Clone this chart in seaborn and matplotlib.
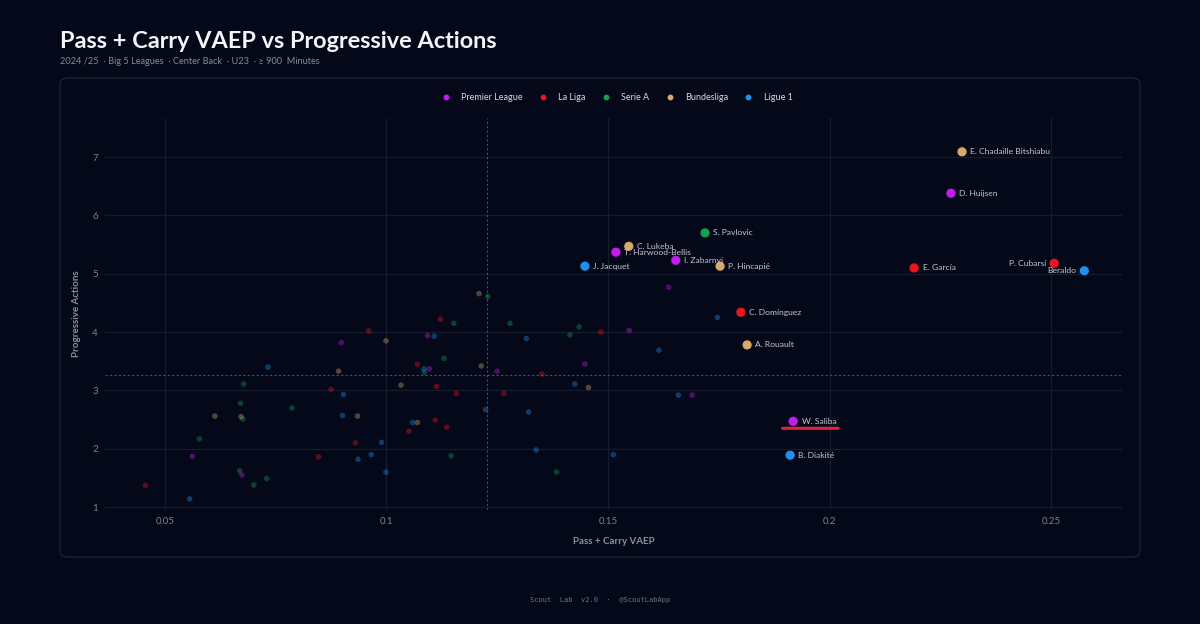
import numpy as np
import pandas as pd
import seaborn as sns
import matplotlib.pyplot as plt
from matplotlib.patches import FancyBboxPatch
from matplotlib.transforms import offset_copy

# ligler ve renkler
leagues = ["Premier League", "La Liga", "Serie A", "Bundesliga", "Ligue 1"]
league_colors = ["#c41cf0", "#f0121e", "#12a150", "#d9a96a", "#1e90f0"]

# etiketli oyuncular
names = ["E. Chadaille Bitshiabu", "D. Huijsen", "S. Pavlovic", "C. Lukeba",
         "T. Harwood-Bellis", "J. Jacquet", "I. Zabarnyi", "P. Hincapié",
         "E. García", "P. Cubarsí", "Beraldo", "C. Domínguez", "A. Rouault",
         "W. Saliba", "B. Diakité"]
names_vaep = [0.2299, 0.2274, 0.1719, 0.1547, 0.1518, 0.1448, 0.1653, 0.1753,
              0.2191, 0.2507, 0.2575, 0.1800, 0.1814, 0.1918, 0.1911]
names_prog = [7.09, 6.38, 5.70, 5.47, 5.37, 5.13, 5.23, 5.13,
              5.10, 5.18, 5.05, 4.34, 3.78, 2.47, 1.89]
names_league = ["Bundesliga", "Premier League", "Serie A", "Bundesliga",
                "Premier League", "Ligue 1", "Premier League", "Bundesliga",
                "La Liga", "La Liga", "Ligue 1", "La Liga", "Bundesliga",
                "Premier League", "Ligue 1"]
left_labels = ["P. Cubarsí", "Beraldo"]

# diğer oyuncular (soluk noktalar)
pl_vaep = [0.1637, 0.1548, 0.1448, 0.1690, 0.1093, 0.1097, 0.1250, 0.0898, 0.0562, 0.0674]
pl_prog = [4.77, 4.03, 3.45, 2.92, 3.94, 3.37, 3.33, 3.82, 1.87, 1.55]
liga_vaep = [0.1484, 0.1351, 0.1122, 0.0960, 0.1070, 0.0875, 0.1113, 0.1158,
             0.1265, 0.1110, 0.1136, 0.1051, 0.0930, 0.0847, 0.0456]
liga_prog = [4.00, 3.28, 4.22, 4.02, 3.45, 3.02, 3.07, 2.95,
             2.95, 2.49, 2.37, 2.30, 2.10, 1.86, 1.37]
seriea_vaep = [0.1435, 0.1414, 0.1229, 0.1152, 0.1279, 0.1130, 0.1086, 0.1146, 0.1384,
               0.0678, 0.0671, 0.0676, 0.0787, 0.0578, 0.0669, 0.0701, 0.0730]
seriea_prog = [4.09, 3.95, 4.61, 4.15, 4.15, 3.55, 3.31, 1.88, 1.60,
               3.11, 2.78, 2.51, 2.70, 2.17, 1.62, 1.38, 1.49]
bund_vaep = [0.1456, 0.1209, 0.0999, 0.0892, 0.1214, 0.1033, 0.0935, 0.1070, 0.0672, 0.0613]
bund_prog = [3.05, 4.66, 3.85, 3.33, 3.42, 3.09, 2.56, 2.45, 2.55, 2.56]
ligue1_vaep = [0.1747, 0.1316, 0.1615, 0.1425, 0.1659, 0.1321, 0.1108, 0.1085, 0.0903, 0.0901,
               0.1224, 0.1059, 0.0989, 0.0936, 0.0966, 0.0999, 0.1338, 0.1512, 0.0733, 0.0556]
ligue1_prog = [4.25, 3.89, 3.69, 3.11, 2.92, 2.63, 3.93, 3.37, 2.93, 2.57,
               2.67, 2.45, 2.11, 1.82, 1.90, 1.60, 1.98, 1.90, 3.40, 1.14]

mean_vaep = 0.1227
mean_prog = 3.27

# tablo
others = pd.concat([
    pd.DataFrame({"vaep": pl_vaep, "prog": pl_prog, "league": "Premier League"}),
    pd.DataFrame({"vaep": liga_vaep, "prog": liga_prog, "league": "La Liga"}),
    pd.DataFrame({"vaep": seriea_vaep, "prog": seriea_prog, "league": "Serie A"}),
    pd.DataFrame({"vaep": bund_vaep, "prog": bund_prog, "league": "Bundesliga"}),
    pd.DataFrame({"vaep": ligue1_vaep, "prog": ligue1_prog, "league": "Ligue 1"}),
])
top = pd.DataFrame({"name": names, "vaep": names_vaep, "prog": names_prog, "league": names_league})
palette = dict(zip(leagues, league_colors))

bg = "#050818"
grid_c = "#171c2c"
tick_c = "#7b808e"

sns.set_theme(style="dark")
plt.rcParams["font.family"] = ["Lato", "DejaVu Sans"]

fig = plt.figure(figsize=(12, 6.24), dpi=100, facecolor=bg)
ax = fig.add_axes([0.0875, 0.1827, 0.8475, 0.6282])
ax.set_facecolor(bg)

# panel çerçevesi
panel = FancyBboxPatch((60 / 1200, 1 - 557 / 624), 1080 / 1200, 479 / 624,
                       boxstyle="round,pad=0,rounding_size=0.008",
                       transform=fig.transFigure, facecolor="none",
                       edgecolor="#1d2232", lw=1.0, zorder=0)
fig.patches.append(panel)

# soluk noktalar
sns.scatterplot(data=others, x="vaep", y="prog", hue="league", hue_order=leagues,
                palette=palette, s=16, alpha=0.38, linewidth=0, legend=False, ax=ax, zorder=3)

# etiketli noktalar
sns.scatterplot(data=top, x="vaep", y="prog", hue="league", hue_order=leagues,
                palette=palette, s=55, linewidth=0.8, edgecolor="#0b0e1c", legend=False,
                ax=ax, zorder=5)

for n, xv, yv in zip(names, names_vaep, names_prog):
    if n in left_labels:
        ax.annotate(n, (xv, yv), xytext=(-6, 0), textcoords="offset points",
                    ha="right", va="center", fontsize=6.1, color="#c3c7d1", zorder=6)
    else:
        ax.annotate(n, (xv, yv), xytext=(6, 0), textcoords="offset points",
                    ha="left", va="center", fontsize=6.1, color="#c3c7d1", zorder=6)

# Saliba alt çizgi
si = names.index("W. Saliba")
sx, sy = names_vaep[si], names_prog[si]
ax.annotate("", xy=(sx, sy), xycoords=offset_copy(ax.transData, fig=fig, x=-7.6, y=-5, units="points"),
            xytext=(sx, sy), textcoords=offset_copy(ax.transData, fig=fig, x=32.4, y=-5, units="points"),
            arrowprops=dict(arrowstyle="-", color="#e8213a", lw=2.2, shrinkA=0, shrinkB=0), zorder=6)

# ortalama çizgileri
ax.axvline(mean_vaep, color="#4a4f60", lw=0.8, ls=(0, (2, 2)), zorder=2)
ax.axhline(mean_prog, color="#4a4f60", lw=0.8, ls=(0, (2, 2)), zorder=2)

ax.set_xlim(0.0365, 0.266)
ax.set_ylim(0.95, 7.67)
ax.set_xticks([0.05, 0.1, 0.15, 0.2, 0.25])
ax.set_xticklabels(["0.05", "0.1", "0.15", "0.2", "0.25"])
ax.set_yticks([1, 2, 3, 4, 5, 6, 7])
ax.grid(True, color=grid_c, lw=0.9)
ax.tick_params(colors=tick_c, labelsize=7, length=0, pad=5)
for sp in ax.spines.values():
    sp.set_visible(False)
ax.set_xlabel("Pass + Carry VAEP", color="#8c91a0", fontsize=7, fontweight="bold", labelpad=8)
ax.set_ylabel("Progressive Actions", color="#8c91a0", fontsize=7, fontweight="bold", labelpad=8)

# lejant
handles = [plt.Line2D([], [], marker="o", ls="", color=c, markersize=3.2) for c in league_colors]
fig.legend(handles, leagues, loc="center", bbox_to_anchor=(0.514, 1 - 98 / 624), ncol=5,
           frameon=False, fontsize=6.5, labelcolor="#d5d8e0", handletextpad=1.2,
           columnspacing=1.75, handlelength=1.0)

# başlıklar
fig.text(60 / 1200, 1 - 41 / 624, "Pass + Carry VAEP vs Progressive Actions", color="#f4f5f8",
         fontsize=16.9, fontweight="bold", va="center", ha="left")
fig.text(60 / 1200, 1 - 62 / 624, "2024 /25  · Big 5 Leagues  · Center Back  · U23  · ≥ 900  Minutes",
         color="#868b99", fontsize=6.6, va="center", ha="left")
fig.text(0.5, 1 - 600 / 624, "Scout  Lab  v2.0  ·  @ScoutLabApp", color="#6f7483",
         fontsize=5, family="DejaVu Sans Mono", ha="center", va="center")

fig.savefig("out.png", dpi=100, facecolor=bg)
